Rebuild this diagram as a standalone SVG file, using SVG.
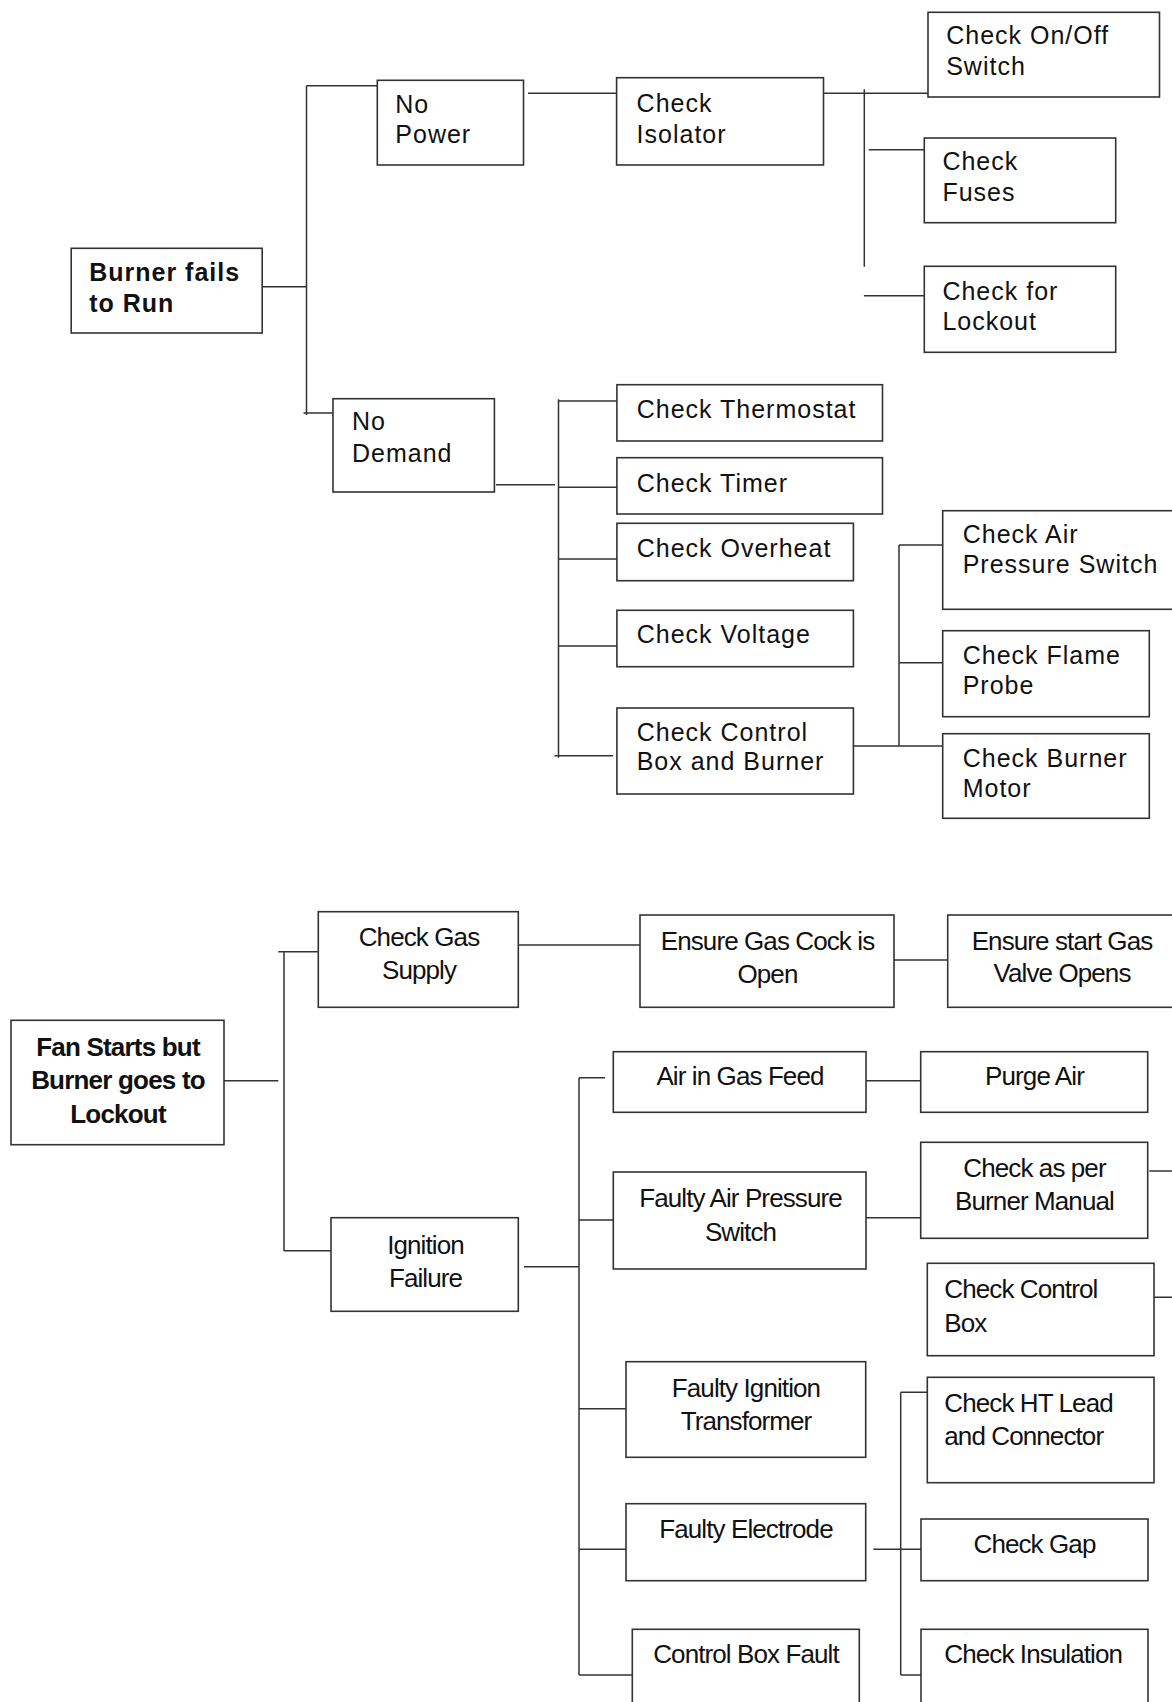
<svg xmlns="http://www.w3.org/2000/svg" width="1172" height="1702" viewBox="0 0 1172 1702">
<style>
rect{fill:#fff;stroke:#333;stroke-width:1.6}
#connectors path{fill:none;stroke:#333;stroke-width:1.5}
text{font-family:"Liberation Sans",Arial,sans-serif;fill:#111}
.t{font-size:25px;letter-spacing:1px}
.tb{font-size:25px;letter-spacing:1px;font-weight:bold}
.b{font-size:26px;letter-spacing:-0.9px;text-anchor:middle}
.bl{font-size:26px;letter-spacing:-0.9px}
.bb{font-size:26px;letter-spacing:-0.8px;text-anchor:middle;font-weight:bold}
</style>
<rect x="0" y="0" width="1172" height="1702" style="fill:#fff;stroke:none"/>
<g id="connectors">
<path d="M262 286.7H306.5M306.5 85.7V415M306.5 85.7H380.8M303.5 413H333"/>
<path d="M528 93.3H616.6"/>
<path d="M823.5 93.3H928M864.3 89.3V266.7M868.8 149.7H924.3M863.9 295.7H924.3"/>
<path d="M496 484.7H555M558.5 399.3V757.7M558.5 401H616.9M558.5 487.3H616.9M558.5 559H616.9M558.5 646H616.9M554.5 755.7H613"/>
<path d="M853.4 746H942.7M899 545V746M899 545H942.7M899 662.7H942.7"/>
<path d="M224 1080.7H278.3M284 952.3V1251M278.3 951.7H318.3M284 1250.7H336.7"/>
<path d="M518.3 945H640M894 960H947.7"/>
<path d="M524 1266.7H579M579 1077.7V1675M579 1077.7H605M579 1220H619M579 1408.7H631.7M579 1549.3H631.7M579 1675H632.3"/>
<path d="M866 1080.7H920.7M866 1217.7H920.7M1149.3 1171H1172M1154 1297.3H1172"/>
<path d="M873.3 1549.3H926.7M900.7 1392.3V1675M900.7 1392.3H927.3M900.7 1675H926.7"/>
</g>
<g id="n-burner-fails"><rect x="71.2" y="248.3" width="191" height="84.7"/><text class="tb" x="89.2" y="281">Burner fails</text><text class="tb" x="89.2" y="312.3">to Run</text></g>
<g id="n-no-power"><rect x="377.3" y="80.3" width="146.2" height="84.7"/><text class="t" x="395.3" y="112.7">No</text><text class="t" x="395.3" y="143.3">Power</text></g>
<g id="n-no-demand"><rect x="333" y="398.7" width="161.4" height="93.3"/><text class="t" x="352" y="430">No</text><text class="t" x="352" y="461.7">Demand</text></g>
<g id="n-check-isolator"><rect x="616.6" y="77.7" width="206.9" height="87.3"/><text class="t" x="636.6" y="111.7">Check</text><text class="t" x="636.6" y="142.7">Isolator</text></g>
<g id="n-check-onoff"><rect x="928" y="12.3" width="231.5" height="84.7"/><text class="t" x="946.2" y="44.3">Check On/Off</text><text class="t" x="946.2" y="75">Switch</text></g>
<g id="n-check-fuses"><rect x="924.3" y="138" width="191.4" height="84.7"/><text class="t" x="942.4" y="170">Check</text><text class="t" x="942.4" y="200.7">Fuses</text></g>
<g id="n-check-lockout"><rect x="924.3" y="266.3" width="191.4" height="86"/><text class="t" x="942.4" y="300">Check for</text><text class="t" x="942.4" y="330">Lockout</text></g>
<g id="n-check-thermostat"><rect x="616.9" y="384.7" width="265.6" height="56.3"/><text class="t" x="636.7" y="418">Check Thermostat</text></g>
<g id="n-check-timer"><rect x="616.9" y="457.7" width="265.6" height="56.3"/><text class="t" x="636.7" y="491.7">Check Timer</text></g>
<g id="n-check-overheat"><rect x="616.9" y="523.3" width="236.5" height="57.4"/><text class="t" x="636.7" y="556.7">Check Overheat</text></g>
<g id="n-check-voltage"><rect x="616.9" y="610.3" width="236.5" height="56.4"/><text class="t" x="636.7" y="642.7">Check Voltage</text></g>
<g id="n-check-control-burner"><rect x="616.9" y="708" width="236.5" height="86"/><text class="t" x="636.7" y="740.7">Check Control</text><text class="t" x="636.7" y="770">Box and Burner</text></g>
<g id="n-check-air-pressure"><rect x="942.7" y="510.7" width="240" height="98.6"/><text class="t" x="962.7" y="543.3">Check Air</text><text class="t" x="962.7" y="573.3">Pressure Switch</text></g>
<g id="n-check-flame"><rect x="942.7" y="630.7" width="206.6" height="86"/><text class="t" x="962.7" y="664">Check Flame</text><text class="t" x="962.7" y="694">Probe</text></g>
<g id="n-check-burner-motor"><rect x="942.7" y="733.7" width="206.6" height="84.6"/><text class="t" x="962.7" y="766.7">Check Burner</text><text class="t" x="962.7" y="796.7">Motor</text></g>
<g id="n-fan-starts"><rect x="11" y="1020.3" width="213" height="124.4"/><text class="bb" x="118" y="1056">Fan Starts but</text><text class="bb" x="118" y="1089.3">Burner goes to</text><text class="bb" x="118" y="1122.7">Lockout</text></g>
<g id="n-check-gas-supply"><rect x="318.3" y="911.7" width="200" height="95.6"/><text class="b" x="419" y="945.7">Check Gas</text><text class="b" x="419" y="979.3">Supply</text></g>
<g id="n-ignition-failure"><rect x="331" y="1217.7" width="187.3" height="93.6"/><text class="b" x="425.5" y="1254">Ignition</text><text class="b" x="425.5" y="1286.7">Failure</text></g>
<g id="n-gas-cock"><rect x="640" y="915" width="254" height="92.3"/><text class="b" x="767.5" y="950">Ensure Gas Cock is</text><text class="b" x="767.5" y="983.3">Open</text></g>
<g id="n-start-gas-valve"><rect x="947.7" y="915" width="240" height="92.3"/><text class="b" x="1062" y="950">Ensure start Gas</text><text class="b" x="1062" y="981.7">Valve Opens</text></g>
<g id="n-air-in-gas"><rect x="613.3" y="1051.7" width="252.7" height="60.6"/><text class="b" x="740" y="1085">Air in Gas Feed</text></g>
<g id="n-purge-air"><rect x="920.7" y="1051.7" width="227" height="60.6"/><text class="b" x="1034.5" y="1085">Purge Air</text></g>
<g id="n-faulty-aps"><rect x="613.3" y="1172" width="252.7" height="97"/><text class="b" x="740.5" y="1207.3">Faulty Air Pressure</text><text class="b" x="740.5" y="1240.7">Switch</text></g>
<g id="n-burner-manual"><rect x="920.7" y="1142.3" width="227" height="96"/><text class="b" x="1034.5" y="1176.7">Check as per</text><text class="b" x="1034.5" y="1210">Burner Manual</text></g>
<g id="n-check-control-box"><rect x="927.3" y="1263.3" width="226.7" height="92.4"/><text class="bl" x="944.3" y="1298.3">Check Control</text><text class="bl" x="944.3" y="1331.7">Box</text></g>
<g id="n-ignition-transformer"><rect x="626" y="1361.7" width="239.7" height="95.6"/><text class="b" x="746" y="1396.7">Faulty Ignition</text><text class="b" x="746" y="1430">Transformer</text></g>
<g id="n-ht-lead"><rect x="927.3" y="1377.3" width="226.7" height="105.4"/><text class="bl" x="944.3" y="1411.7">Check HT Lead</text><text class="bl" x="944.3" y="1445">and Connector</text></g>
<g id="n-faulty-electrode"><rect x="626" y="1503.7" width="239.7" height="77"/><text class="b" x="746" y="1538.3">Faulty Electrode</text></g>
<g id="n-check-gap"><rect x="921" y="1519" width="227" height="61.7"/><text class="b" x="1034.5" y="1553.3">Check Gap</text></g>
<g id="n-control-box-fault"><rect x="632.3" y="1629.3" width="227" height="90"/><text class="b" x="746" y="1663.3">Control Box Fault</text></g>
<g id="n-check-insulation"><rect x="921" y="1629.3" width="227" height="90"/><text class="bl" x="944.3" y="1663.3">Check Insulation</text></g>
</svg>
